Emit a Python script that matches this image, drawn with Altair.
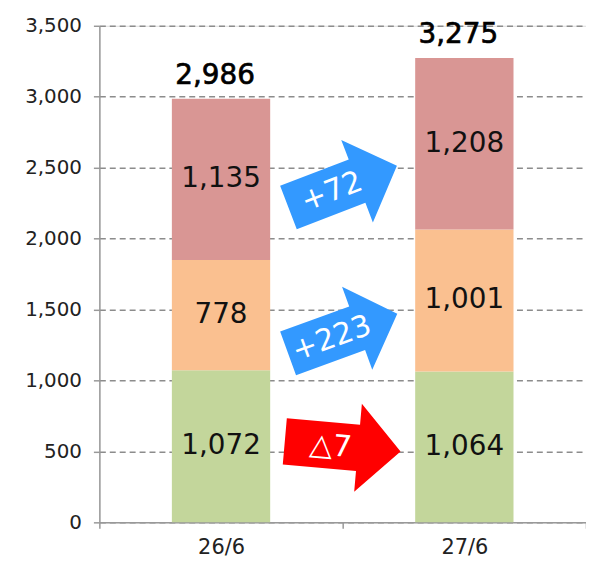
import altair as alt
import pandas as pd

# ---- data ----
categories = ["26/6", "27/6"]
series = ["s1", "s2", "s3"]
series_colors = ["#C3D69B", "#FAC090", "#D99694"]
s1_values = [1072, 1064]
s2_values = [778, 1001]
s3_values = [1135, 1208]
totals = [2986, 3275]
y_ticks = [0, 500, 1000, 1500, 2000, 2500, 3000, 3500]

# change annotations (arrows between the two bars)
delta_labels = ["+72", "+223", "\u25b37"]
delta_y = [2366, 1331, 535]
delta_angle = [339, 340, 5]
delta_colors = ["#3399FF", "#3399FF", "#FF0000"]

FONT = "DejaVu Sans"

rows = []
for i, c in enumerate(categories):
    for k, (s, vals) in enumerate(zip(series, [s1_values, s2_values, s3_values])):
        rows.append({"cat": c, "series": s, "value": vals[i], "order": k})
df = pd.DataFrame(rows)
df_tot = pd.DataFrame({"cat": categories, "total": totals})
df_arr = pd.DataFrame({
    "cat": [categories[0]] * len(delta_labels),
    "y": delta_y,
    "angle": delta_angle,
    "col": delta_colors,
    "label": delta_labels,
})

x_enc = alt.X(
    "cat:N",
    sort=categories,
    scale=alt.Scale(paddingInner=0, paddingOuter=0),
    axis=alt.Axis(
        title=None, labelAngle=0, tickBand="extent", labelFont=FONT,
        labelFontSize=21, labelColor="#222222", labelPadding=8,
        labelBaseline="top",
        tickSize=6, tickColor="#999999", domainColor="#999999",
        domainWidth=1.5, tickWidth=1.5, grid=False,
    ),
)
y_scale = alt.Scale(domain=[0, 3500], nice=False)

bars = alt.Chart(df).mark_bar(size=99).encode(
    x=x_enc,
    y=alt.Y(
        "value:Q", stack="zero", scale=y_scale,
        axis=alt.Axis(
            title=None, values=y_ticks, format=",.0f", labelFont=FONT,
            labelFontSize=20, labelColor="#222222", labelPadding=12,
            tickSize=6, tickColor="#999999", tickWidth=1.5,
            domainColor="#999999", domainWidth=1.5,
            grid=True, gridColor="#8c8c8c", gridDash=[6, 4], gridWidth=1.5,
        ),
    ),
    color=alt.Color("series:N", scale=alt.Scale(domain=series, range=series_colors), legend=None),
    order=alt.Order("order:Q"),
)

seg_labels = alt.Chart(df).transform_stack(
    stack="value", groupby=["cat"], as_=["v0", "v1"],
    sort=[alt.SortField("order", order="ascending")],
).transform_calculate(
    mid="(datum.v0 + datum.v1) / 2"
).mark_text(font=FONT, fontSize=28, color="#111111").encode(
    x=alt.X("cat:N", sort=categories),
    y=alt.Y("mid:Q", scale=y_scale),
    text=alt.Text("value:Q", format=","),
)

tot_labels = alt.Chart(df_tot).mark_text(
    font=FONT, fontSize=28, color="#000000", stroke="#000000", strokeWidth=0.7,
    baseline="bottom", dy=-9, dx=-6,
).encode(
    x=alt.X("cat:N", sort=categories),
    y=alt.Y("total:Q", scale=y_scale),
    text=alt.Text("total:Q", format=","),
)

arrow_path = "M-1,-0.4L0.265,-0.4L0.265,-0.76L1,0L0.265,0.76L0.265,0.4L-1,0.4Z"
arrows = alt.Chart(df_arr).mark_point(
    shape=arrow_path, size=117 * 117, filled=True, opacity=1, strokeWidth=0,
).encode(
    x=alt.X("cat:N", sort=categories, bandPosition=1),
    y=alt.Y("y:Q", scale=y_scale),
    angle=alt.Angle("angle:Q", scale=None),
    fill=alt.Fill("col:N", scale=None),
)

arrow_text = alt.Chart(df_arr).mark_text(
    font=FONT, fontSize=30, color="#FFFFFF", dx=-12, dy=1,
).encode(
    x=alt.X("cat:N", sort=categories, bandPosition=1),
    y=alt.Y("y:Q", scale=y_scale),
    angle=alt.Angle("angle:Q", scale=None),
    text="label:N",
)

chart = alt.layer(bars, seg_labels, tot_labels, arrows, arrow_text).properties(
    width=490, height=500,
    autosize=alt.AutoSizeParams(type="none"),
    padding={"left": 92, "top": 16, "right": 0, "bottom": 36},
).configure_view(stroke=None).configure(background="white")

chart.save("out.html", embed_options={"renderer": "svg", "actions": False})
